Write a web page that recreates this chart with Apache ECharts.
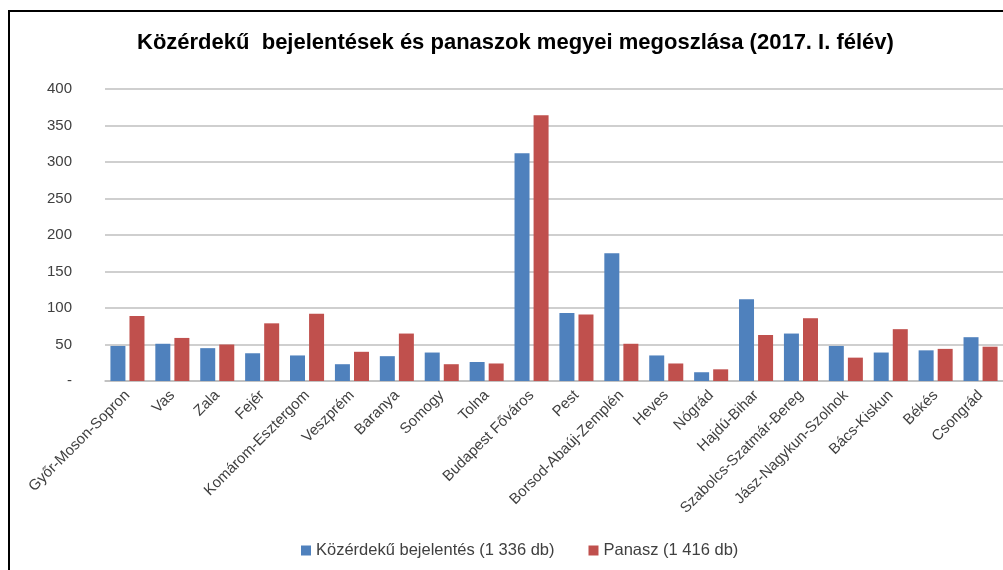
<!DOCTYPE html>
<html>
<head>
<meta charset="utf-8">
<script src="https://cdn.jsdelivr.net/npm/echarts@6/dist/echarts.min.js"></script>
<style>html,body{margin:0;padding:0;background:#fff}#c{width:1003px;height:570px}</style>
</head>
<body>
<div id="c"></div>
<script>
const categories = ["Győr-Moson-Sopron","Vas","Zala","Fejér","Komárom-Esztergom","Veszprém","Baranya","Somogy","Tolna","Budapest Főváros","Pest","Borsod-Abaúj-Zemplén","Heves","Nógrád","Hajdú-Bihar","Szabolcs-Szatmár-Bereg","Jász-Nagykun-Szolnok","Bács-Kiskun","Békés","Csongrád"];
const bejelentes = [48,51,45,38,35,23,34,39,26,312,93,175,35,12,112,65,48,39,42,60];
const panasz = [89,59,50,79,92,40,65,23,24,364,91,51,24,16,63,86,32,71,44,47];
const seriesNames = ["Közérdekű bejelentés (1 336 db)","Panasz (1 416 db)"];
const titleText = "Közérdekű  bejelentések és panaszok megyei megoszlása (2017. I. félév)";

const chart = echarts.init(document.getElementById('c'), null, {renderer:'canvas'});
chart.setOption({
  animation:false,
  backgroundColor:'#fff',
  graphic:[{type:'polyline',shape:{points:[[9,570],[9,11],[1003,11]]},style:{stroke:'#000',lineWidth:2,fill:null}}],
  title:{text:titleText,left:132,top:27,textStyle:{fontFamily:'Liberation Sans, sans-serif',fontWeight:'bold',fontSize:22,color:'#000'}},
  legend:{bottom:6,left:296,itemWidth:10,itemHeight:10,itemGap:34,icon:'rect',textStyle:{fontFamily:'Liberation Sans, sans-serif',fontSize:16.5,color:'#404040'}},
  grid:{left:105,right:0,top:89,bottom:189,containLabel:false},
  xAxis:{type:'category',data:categories,axisTick:{show:false},axisLine:{lineStyle:{color:'#bfbfbf',width:1.5}},
    axisLabel:{rotate:45,interval:0,margin:12,fontFamily:'Liberation Sans, sans-serif',fontSize:15,color:'#404040'}},
  yAxis:{type:'value',min:0,max:400,interval:50,axisLine:{show:false},axisTick:{show:false},
    splitLine:{lineStyle:{color:'#bfbfbf',width:1.5}},
    axisLabel:{margin:33,fontFamily:'Liberation Sans, sans-serif',fontSize:15,color:'#404040',formatter:v=>v===0?'-':String(v)}},
  series:[
    {name:seriesNames[0],type:'bar',data:bejelentes,barWidth:15,barGap:'27%',itemStyle:{color:'#4f81bd'}},
    {name:seriesNames[1],type:'bar',data:panasz,barWidth:15,itemStyle:{color:'#c0504d'}}
  ]
});
</script>
</body>
</html>
